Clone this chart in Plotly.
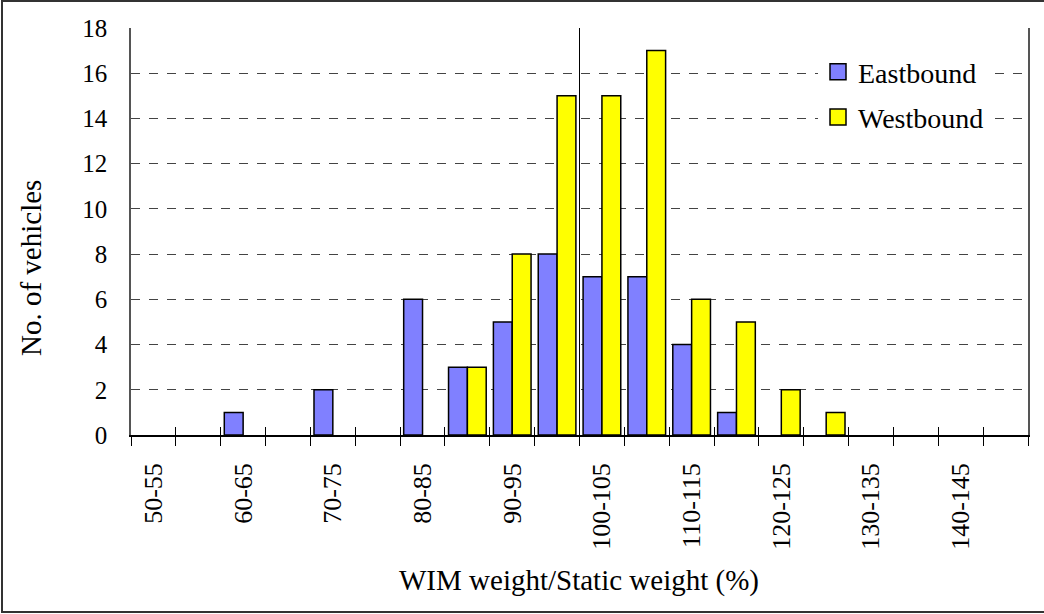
import plotly.graph_objects as go

categories = ["50-55", "55-60", "60-65", "65-70", "70-75", "75-80", "80-85", "85-90",
              "90-95", "95-100", "100-105", "105-110", "110-115", "115-120", "120-125",
              "125-130", "130-135", "135-140", "140-145", "145-150"]
eastbound = [0, 0, 1, 0, 2, 0, 6, 3, 5, 8, 7, 7, 4, 1, 0, 0, 0, 0, 0, 0]
westbound = [0, 0, 0, 0, 0, 0, 0, 3, 8, 15, 15, 17, 6, 5, 2, 1, 0, 0, 0, 0]
tick_labels = [c if i % 2 == 0 else "" for i, c in enumerate(categories)]
y_ticks = list(range(0, 19, 2))
ref_category = "100-105"

FONT = "Liberation Serif"
EAST_COLOR = "#8080FF"
WEST_COLOR = "#FFFF00"

W, H = 1044, 614
L, R, T, B = 131, 1028, 28, 435
pw, ph = R - L, B - T

def px(x):
    return (x - L) / pw

def py(y):
    return (B - y) / ph

def nz(vals):
    return [v if v else None for v in vals]

fig = go.Figure()
fig.add_trace(go.Bar(x=categories, y=nz(eastbound), name="Eastbound",
                     marker=dict(color=EAST_COLOR, line=dict(color="black", width=1.5)),
                     showlegend=False))
fig.add_trace(go.Bar(x=categories, y=nz(westbound), name="Westbound",
                     marker=dict(color=WEST_COLOR, line=dict(color="black", width=1.5)),
                     showlegend=False))
fig.add_trace(go.Scatter(x=[None], y=[None], mode="markers", name="Eastbound",
                         legendgroup="e",
                         marker=dict(symbol="square", size=18, color=EAST_COLOR,
                                     line=dict(color="black", width=1.5))))
fig.add_trace(go.Scatter(x=[None], y=[None], mode="markers", name="Westbound",
                         legendgroup="w",
                         marker=dict(symbol="square", size=18, color=WEST_COLOR,
                                     line=dict(color="black", width=1.5))))
fig.add_trace(go.Scatter(x=categories, y=[None] * len(categories), xaxis="x2",
                         mode="markers", showlegend=False, hoverinfo="skip"))

ref_pos = categories.index(ref_category) - 0.5
fig.add_shape(type="line", xref="x", yref="paper", x0=ref_pos, x1=ref_pos, y0=0, y1=1,
              line=dict(color="black", width=1), layer="above")
fig.add_shape(type="rect", xref="paper", yref="paper",
              x0=px(2), x1=px(1060), y0=py(612), y1=py(1),
              line=dict(color="#333333", width=2), layer="above")

fig.add_annotation(text="No. of vehicles", xref="paper", yref="paper",
                   x=px(31), y=py(268), textangle=-90, showarrow=False,
                   xanchor="center", yanchor="middle",
                   font=dict(family=FONT, size=29, color="black"))
fig.add_annotation(text="WIM weight/Static weight (%)", xref="paper", yref="paper",
                   x=px(579), y=py(580), showarrow=False,
                   xanchor="center", yanchor="middle",
                   font=dict(family=FONT, size=29, color="black"))

fig.update_layout(
    width=W, height=H,
    margin=dict(l=L, r=W - R, t=T, b=H - B, pad=0, autoexpand=False),
    paper_bgcolor="white", plot_bgcolor="white",
    barmode="group", bargap=0.16, bargroupgap=0,
    font=dict(family=FONT, size=25, color="black"),
    xaxis=dict(type="category", categoryarray=categories, categoryorder="array",
               range=[-0.5, len(categories) - 0.5],
               tickmode="array", tickvals=categories, ticktext=tick_labels,
               tickson="boundaries", ticks="outside", ticklen=9, tickwidth=1,
               tickcolor="black", tickangle=-90, ticklabelstandoff=16,
               showline=True, linecolor="black", linewidth=1.5,
               showgrid=False, zeroline=False, automargin=False,
               tickfont=dict(family=FONT, size=26, color="black")),
    xaxis2=dict(type="category", categoryarray=categories, categoryorder="array",
                overlaying="x", anchor="y", side="bottom",
                range=[-0.5, len(categories) - 0.5],
                tickmode="array", tickvals=categories, ticktext=[""] * len(categories),
                tickson="boundaries", ticks="inside", ticklen=8, tickwidth=1,
                tickcolor="black", showline=False, showgrid=False, zeroline=False),
    yaxis=dict(range=[0, 18], tickmode="array", tickvals=y_ticks,
               showline=True, linecolor="#555555", linewidth=1.5, mirror=True,
               ticks="", ticklabelstandoff=17, automargin=False,
               showgrid=True, gridcolor="#444444", gridwidth=1, griddash="dash",
               zeroline=False,
               tickfont=dict(family=FONT, size=25, color="black")),
    legend=dict(x=px(818), y=py(47), xanchor="left", yanchor="top",
                bgcolor="white", borderwidth=0, tracegroupgap=6,
                font=dict(family=FONT, size=28, color="black")),
)

fig.write_html("out.html", post_script="document.body.style.margin='0';",
               config={"displayModeBar": False})
